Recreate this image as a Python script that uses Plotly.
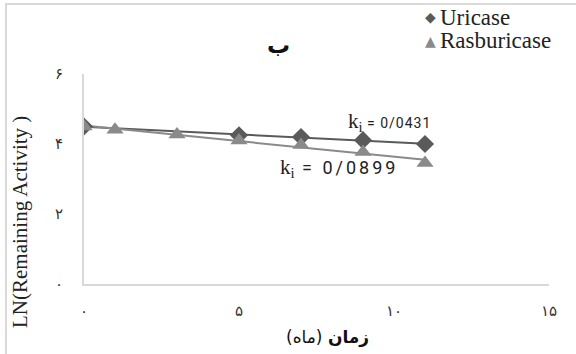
import numpy as np
import plotly.graph_objects as go

# Storage time (months) and ln of remaining activity
uricase_months = [0, 5, 7, 9, 11]
uricase_ln = [4.50, 4.25, 4.20, 4.11, 4.00]
rasburicase_months = [0, 1, 3, 5, 7, 9, 11]
rasburicase_ln = [4.50, 4.41, 4.27, 4.10, 3.97, 3.77, 3.46]

series_names = ["Uricase", "Rasburicase"]
k_labels = ["0/0431", "0/0899"]

x_tickvals = [0, 5, 10, 15]
x_ticktext = ["۰", "۵", "۱۰", "۱۵"]
y_tickvals = [0, 2, 4, 6]
y_ticktext = ["۰", "۲", "۴", "۶"]

W, H = 576, 354
L, R, T, B = 84, 27, 74, 70


def px(xp):
    return (xp - L) / (W - L - R)


def py(yp):
    return (H - B - yp) / (H - T - B)


colors = ["#5a5a5a", "#8a8a8a"]
symbols = ["diamond", "triangle-up"]
glyphs = ["◆", "▲"]

fig = go.Figure()

# linear trend lines over each series' data range
for xs_, ys_, col in zip([uricase_months, rasburicase_months],
                         [uricase_ln, rasburicase_ln], colors):
    xa, ya = np.array(xs_, float), np.array(ys_, float)
    slope, icpt = np.polyfit(xa, ya, 1)
    xe = np.array([xa.min(), xa.max()])
    fig.add_trace(go.Scatter(x=xe, y=icpt + slope * xe, mode="lines",
                             line=dict(color=col, width=2),
                             showlegend=False, hoverinfo="skip"))

for xs_, ys_, name, col, sym, sz in zip([uricase_months, rasburicase_months],
                                        [uricase_ln, rasburicase_ln],
                                        series_names, colors, symbols, [14, 15]):
    fig.add_trace(go.Scatter(x=xs_, y=ys_, mode="markers", name=name,
                             marker=dict(symbol=sym, size=sz, color=col),
                             showlegend=False))

persian = "DejaVu Sans"
serif = "'Liberation Serif', Tinos, 'Times New Roman', serif"

fig.update_layout(
    width=W, height=H,
    margin=dict(l=L, r=R, t=T, b=B),
    paper_bgcolor="white", plot_bgcolor="white",
    showlegend=False,
    xaxis=dict(range=[0, 15], tickvals=x_tickvals, ticktext=x_ticktext,
               showgrid=False, zeroline=False, showline=True,
               linecolor="#d9d9d9", linewidth=2, ticks="",
               ticklabelstandoff=12,
               tickfont=dict(family=persian, size=15, color="#333")),
    yaxis=dict(range=[0, 6], tickvals=y_tickvals, ticktext=y_ticktext,
               showgrid=False, zeroline=False, showline=True,
               linecolor="#d9d9d9", linewidth=2, ticks="",
               ticklabelstandoff=16,
               tickfont=dict(family=persian, size=15, color="#333")),
)

annotations = [
    dict(text="<b>ب</b>", x=px(278), y=py(45), font=dict(family=persian, size=23, color="#111")),
    dict(text="<b>زمان</b> (ماه)", x=px(327), y=py(337),
         font=dict(family=persian, size=17, color="#111")),
    dict(text="LN(Remaining Activity )", x=px(20), y=py(222), textangle=-90,
         font=dict(family=serif, size=21, color="#222")),
    dict(text="k<sub>i</sub><span style='font-family:Roboto;font-size:14px;letter-spacing:1px'> = " + k_labels[0] + "</span>",
         x=px(346), y=py(122), xanchor="left",
         font=dict(family=serif, size=21, color="#222")),
    dict(text="k<sub>i</sub><span style='font-family:Roboto;font-size:18px;letter-spacing:3px'> = " + k_labels[1] + "</span>",
         x=px(278), y=py(168), xanchor="left",
         font=dict(family=serif, size=21, color="#222")),
]
# legend entries: marker glyph, then series name
for i, (name, col, g) in enumerate(zip(series_names, colors, glyphs)):
    yrow = py(17 + 24 * i)
    annotations.append(dict(text=g, x=px(430), y=yrow, xanchor="center",
                            font=dict(family="DejaVu Sans", size=14, color=col)))
    annotations.append(dict(text=name, x=px(438), y=yrow, xanchor="left",
                            font=dict(family=serif, size=23, color="#222")))

for a in annotations:
    a.update(xref="paper", yref="paper", showarrow=False)
    a.setdefault("xanchor", "center")
    a.setdefault("yanchor", "middle")
fig.update_layout(annotations=annotations)

# chart-area border along the top and left edges
fig.add_shape(type="line", xref="paper", yref="paper", x0=px(5), x1=px(W), y0=py(4), y1=py(4),
              line=dict(color="#d9d9d9", width=2))
fig.add_shape(type="line", xref="paper", yref="paper", x0=px(6), x1=px(6), y0=py(4), y1=py(H),
              line=dict(color="#d9d9d9", width=2))

fig.write_html("out.html")
